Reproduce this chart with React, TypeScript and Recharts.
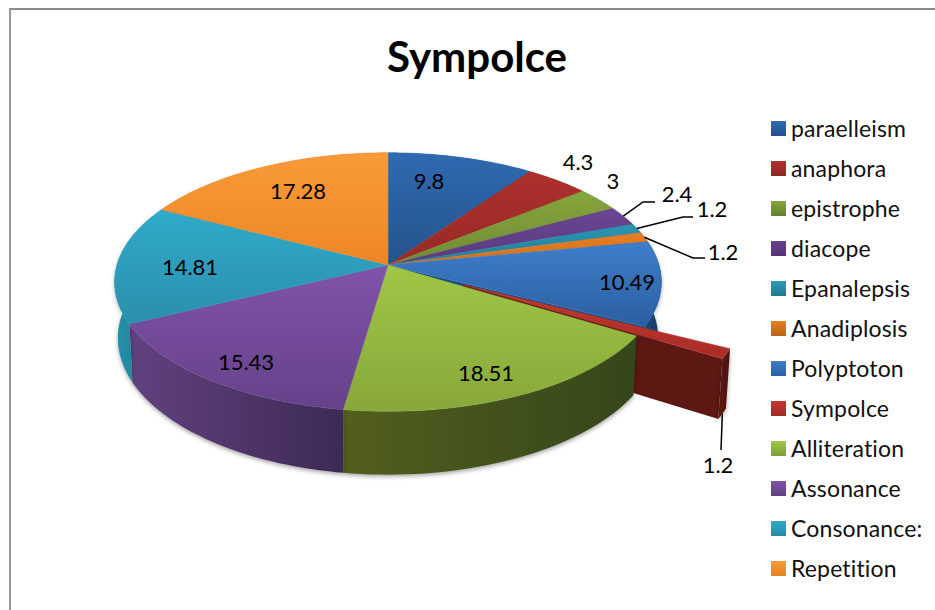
import { Legend, Pie, PieChart } from "recharts"

const categories = [
  "paraelleism", "anaphora", "epistrophe", "diacope", "Epanalepsis", "Anadiplosis",
  "Polyptoton", "Sympolce", "Alliteration", "Assonance", "Consonance:", "Repetition",
]
const values = [9.8, 4.3, 3, 2.4, 1.2, 1.2, 10.49, 1.2, 18.51, 15.43, 14.81, 17.28]

// top face gradient, light edge first
const topColors = [
  ["#2f6ab0", "#24538c"], ["#ad302c", "#962a26"], ["#86a63e", "#6f8c33"], ["#6c4694", "#583a7c"],
  ["#2b95b2", "#237d98"], ["#e97e22", "#d06f1c"], ["#3d7ecb", "#2c5f9f"], ["#c4362f", "#aa2d28"],
  ["#a0c646", "#87a83a"], ["#8053aa", "#66428a"], ["#30abca", "#2a8fac"], ["#f99a38", "#ee8627"],
]
// side wall gradient, left to right
const wallColors = [
  ["#1a3d68", "#1a3d68"], ["#641b17", "#641b17"], ["#4c5f20", "#4c5f20"], ["#3d2a55", "#3d2a55"],
  ["#1c6276", "#1c6276"], ["#8c4a10", "#8c4a10"], ["#1c4a7e", "#153a66"], ["#5e1813", "#4a120e"],
  ["#525f1e", "#35461a"], ["#62417f", "#3c2a55"], ["#2590aa", "#1e7a90"], ["#a05c1a", "#a05c1a"],
]
const legendColors = [
  ["#2b6cb3", "#234f8a"], ["#b0312d", "#8c2723"], ["#86a63e", "#65802e"], ["#68428f", "#513571"],
  ["#2b9ab8", "#1f7a94"], ["#e8801f", "#b8641a"], ["#3d7ecb", "#2c62a4"], ["#c4362f", "#a02a26"],
  ["#a0c646", "#7f9e38"], ["#8053aa", "#5f3f82"], ["#30abca", "#2489a3"], ["#f99a38", "#e58222"],
]

// label centres, and the bend + end of each leader line
const labelSpots: Record<number, [number, number]> = {
  0: [429, 180], 1: [578, 161], 2: [613, 180], 3: [677, 193], 4: [712, 208], 5: [723, 251],
  6: [627, 281], 7: [718, 464], 8: [486, 372], 9: [246, 361], 10: [190, 266], 11: [298, 190],
}
const leaders: Record<number, [number, number][]> = {
  3: [[643, 202], [655, 202]],
  4: [[683, 217], [693, 217]],
  5: [[693, 258], [705, 258]],
  7: [[721, 450]],
}

const FONT = "Lato, Carlito, sans-serif"
const CX = 388
const CY = 265
const RX = 271
const RY = 127
const PERSPECTIVE = 0.132
const DEPTH = 55
const TAPER = 0.012
const EXPLODED = "Sympolce"
const EXPLODE_BY = 0.31

const chartData = categories.map((name, i) => ({ name, value: values[i] }))
const rad = (d: number) => (d * Math.PI) / 180

// plane point on the unit disc -> screen, z = 0 top face, z = 1 bottom face
function project(X: number, Y: number, z = 0): [number, number] {
  const s = 1 / (1 + PERSPECTIVE * Y)
  return [CX + RX * X * s * (1 - TAPER * z), CY - RY * Y * s + DEPTH * s * z]
}

function rimPoint(theta: number, ox: number, oy: number, z = 0) {
  return project(Math.sin(rad(theta)) + ox, Math.cos(rad(theta)) + oy, z)
}

const toPath = (pts: [number, number][]) =>
  "M" + pts.map((p) => `${p[0].toFixed(2)},${p[1].toFixed(2)}`).join("L") + "Z"

// recharts angles are math degrees, turn them into clockwise-from-top
function sliceGeometry(props: any) {
  const from = 90 - props.startAngle
  const to = 90 - props.endAngle
  const name = props.name ?? props.payload?.name
  const index = categories.indexOf(name)
  const mid = (from + to) / 2
  const out = name === EXPLODED ? EXPLODE_BY : 0
  const ox = out * Math.sin(rad(mid))
  const oy = out * Math.cos(rad(mid))
  const steps = 40
  const arc: number[] = []
  for (let i = 0; i <= steps; i++) arc.push(from + ((to - from) * i) / steps)
  return { from, to, index, mid, ox, oy, arc, name }
}

function TopFace(props: any) {
  const { index, ox, oy, arc } = sliceGeometry(props)
  const pts: [number, number][] = [project(ox, oy), ...arc.map((t) => rimPoint(t, ox, oy))]
  const fill = `url(#top-${index})`
  return <path d={toPath(pts)} fill={fill} stroke={fill} strokeWidth={0.5} />
}

function WallFace(props: any) {
  const { index, ox, oy, arc, to, name } = sliceGeometry(props)
  const outer: [number, number][] = [
    ...arc.map((t) => rimPoint(t, ox, oy)),
    ...[...arc].reverse().map((t) => rimPoint(t, ox, oy, 1)),
  ]
  // radial walls only show around the pulled-out slice
  const showsCut = name === EXPLODED || categories[index + 1] === EXPLODED
  const cut: [number, number][] = [
    project(ox, oy),
    rimPoint(to, ox, oy),
    rimPoint(to, ox, oy, 1),
    project(ox, oy, 1),
  ]
  return (
    <g>
      {showsCut && <path d={toPath(cut)} fill={wallColors[index][0]} />}
      <path
        d={toPath(outer)}
        fill={`url(#wall-${index})`}
        style={{ filter: "drop-shadow(0px 2px 2px rgba(0,0,0,0.35))" }}
      />
    </g>
  )
}

function renderLabel(props: any) {
  const { index, value } = props
  const { mid, ox, oy } = sliceGeometry(props)
  const spot = labelSpots[index]
  const bends = leaders[index]
  let line = null
  if (bends) {
    const start = rimPoint(mid, ox, oy, categories[index] === EXPLODED ? 1 : 0)
    const pts = [start, ...bends]
    line = (
      <polyline
        points={pts.map((p) => p.join(",")).join(" ")}
        fill="none"
        stroke="#000"
        strokeWidth={1.5}
      />
    )
  }
  return (
    <g>
      {line}
      <text
        x={spot[0]}
        y={spot[1]}
        textAnchor="middle"
        dominantBaseline="central"
        fontFamily={FONT}
        fontSize={22}
        fill="#000"
      >
        {value}
      </text>
    </g>
  )
}

function renderLegend() {
  return (
    <ul style={{ listStyle: "none", margin: 0, padding: 0 }}>
      {categories.map((name, i) => (
        <li key={name} style={{ height: 40, display: "flex", alignItems: "center" }}>
          <span
            style={{
              display: "inline-block",
              width: 15,
              height: 15,
              marginRight: 5,
              background: `linear-gradient(${legendColors[i][0]}, ${legendColors[i][1]})`,
            }}
          />
          <span
            style={{
              fontFamily: FONT,
              fontSize: 23,
              color: "#111",
              lineHeight: "40px",
              fontVariantLigatures: "none",
              letterSpacing: 0.15,
            }}
          >
            {name}
          </span>
        </li>
      ))}
    </ul>
  )
}

export default function App() {
  return (
    <div style={{ position: "relative", width: 935, height: 610, overflow: "hidden", background: "#fff" }}>
      <style>{"body{margin:0}"}</style>
      <div
        style={{
          position: "absolute",
          left: 9,
          top: 8,
          width: 926,
          height: 602,
          borderLeft: "2px solid #999",
          borderTop: "2px solid #8c8c8c",
          boxSizing: "border-box",
        }}
      />
      <PieChart width={935} height={610} style={{ position: "absolute", left: 0, top: 0 }}>
        <defs>
          {topColors.map((c, i) => (
            <linearGradient key={i} id={`top-${i}`} x1="0" y1="0" x2="0" y2="1">
              <stop offset="0" stopColor={c[0]} />
              <stop offset="1" stopColor={c[1]} />
            </linearGradient>
          ))}
          {wallColors.map((c, i) => (
            <linearGradient key={i} id={`wall-${i}`} x1="0" y1="0" x2="1" y2="0">
              <stop offset="0" stopColor={c[0]} />
              <stop offset="1" stopColor={c[1]} />
            </linearGradient>
          ))}
        </defs>
        <text x={477} y={72} textAnchor="middle" fontFamily={FONT} fontWeight={700} fontSize={42} fill="#000">
          Sympolce
        </text>
        <Pie
          data={chartData}
          dataKey="value"
          nameKey="name"
          cx={CX}
          cy={CY}
          outerRadius={RX}
          startAngle={90}
          endAngle={-270}
          stroke="none"
          legendType="none"
          label={false}
          labelLine={false}
          shape={WallFace}
          isAnimationActive={false}
        />
        <Pie
          data={chartData}
          dataKey="value"
          nameKey="name"
          cx={CX}
          cy={CY}
          outerRadius={RX}
          startAngle={90}
          endAngle={-270}
          stroke="none"
          legendType="square"
          label={renderLabel}
          labelLine={false}
          shape={TopFace}
          isAnimationActive={false}
        />
        <Legend
          content={renderLegend}
          layout="vertical"
          wrapperStyle={{ position: "absolute", left: 771, top: 108, width: 164, height: 480 }}
        />
      </PieChart>
    </div>
  )
}
